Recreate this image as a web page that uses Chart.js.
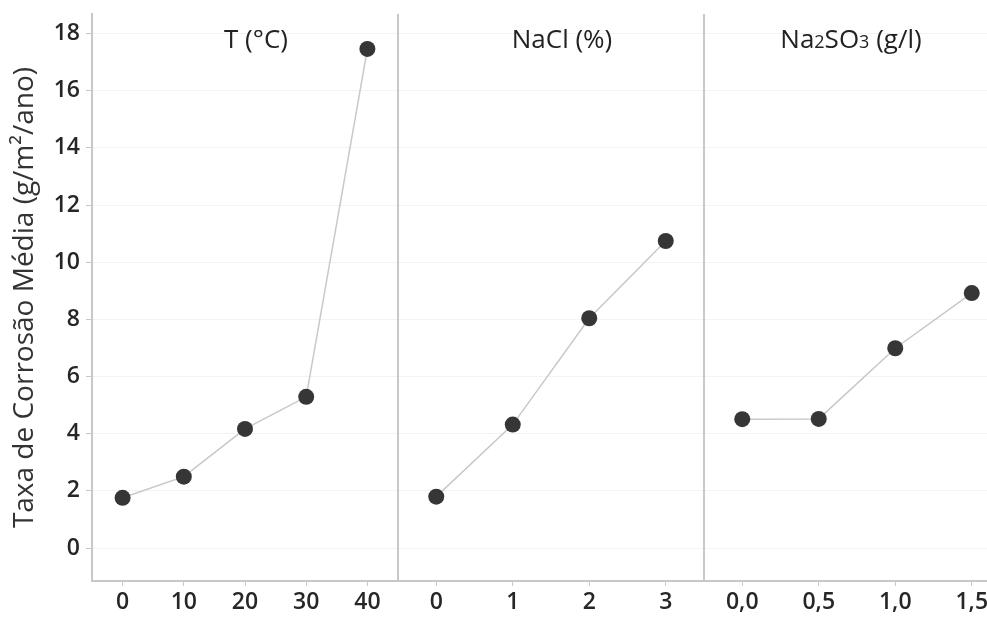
<!DOCTYPE html>
<html>
<head>
<meta charset="utf-8">
<script src="https://cdn.jsdelivr.net/npm/chart.js@4/dist/chart.umd.min.js"></script>
<style>
  html, body { margin: 0; padding: 0; background: #fff; }
  #wrap { width: 987px; height: 617px; overflow: hidden; position: relative; }
  #efeitos { position: absolute; left: 0; top: 0; }
</style>
</head>
<body>
<div id="wrap">
  <canvas id="efeitos" width="1010" height="617" aria-label="gráfico de efeitos principais" role="img"></canvas>
</div>
<script>
// fatores e níveis
var panelTitles = ["T (°C)", "NaCl (%)", "Na₂SO₃ (g/l)"];

var tempLevels = [0, 10, 20, 30, 40];
var tempLabels = ["0", "10", "20", "30", "40"];
var tempMeans = [1.76, 2.50, 4.17, 5.29, 17.46];

var naclLevels = [0, 1, 2, 3];
var naclLabels = ["0", "1", "2", "3"];
var naclMeans = [1.80, 4.32, 8.04, 10.74];

var sulfLevels = [0, 0.5, 1.0, 1.5];
var sulfLabels = ["0,0", "0,5", "1,0", "1,5"];
var sulfMeans = [4.51, 4.52, 6.99, 8.92];

var yTicks = [0, 2, 4, 6, 8, 10, 12, 14, 16, 18];

var axisGrey = "#c8c8c8";
var textColor = "#262626";
var fontFamily = "'Open Sans', 'Noto Sans', sans-serif";
var titleShift = [11, 11, -6];
var subDigits = "₀₁₂₃₄₅₆₇₈₉";

function toPoints(xs, ys) {
  var pts = [];
  for (var i = 0; i < xs.length; i++) {
    pts.push({ x: xs[i], y: ys[i] });
  }
  return pts;
}

function serie(xs, ys, axisId) {
  return {
    data: toPoints(xs, ys),
    xAxisID: axisId,
    yAxisID: "y",
    borderColor: "#c8c8c8",
    borderWidth: 1.5,
    pointRadius: 8,
    pointBorderWidth: 0,
    pointBackgroundColor: "#363636",
    tension: 0,
  };
}

// each factor gets half a step of room on both sides
function panelAxis(levels, labels) {
  var step = levels[1] - levels[0];
  return {
    type: "linear",
    position: "bottom",
    stack: "fatores",
    stackWeight: 1,
    min: levels[0] - step / 2,
    max: levels[levels.length - 1] + step / 2,
    afterBuildTicks: function (scale) {
      scale.ticks = levels.map(function (v) { return { value: v }; });
    },
    afterFit: function (scale) {
      scale.height = 36;
      scale.paddingLeft = 0;
      scale.paddingRight = 0;
    },
    border: { color: axisGrey, width: 2 },
    grid: { drawOnChartArea: false, tickLength: 5, tickColor: axisGrey, tickWidth: 1 },
    ticks: {
      color: textColor,
      padding: 3,
      maxRotation: 0,
      font: { family: fontFamily, size: 23, weight: "600" },
      callback: function (value, index) { return labels[index]; },
    },
  };
}

// text with small baseline digits for the chemical formula
function drawFormula(ctx, text, cx, y, size) {
  var parts = [];
  for (var i = 0; i < text.length; i++) {
    var k = subDigits.indexOf(text[i]);
    if (k >= 0) parts.push({ t: String(k), s: Math.round(size * 0.68) });
    else parts.push({ t: text[i], s: size });
  }
  var total = 0;
  parts.forEach(function (p) {
    ctx.font = p.s + "px " + fontFamily;
    p.w = ctx.measureText(p.t).width;
    total += p.w;
  });
  var x = cx - total / 2;
  ctx.textAlign = "left";
  ctx.textBaseline = "alphabetic";
  parts.forEach(function (p) {
    ctx.font = p.s + "px " + fontFamily;
    ctx.fillText(p.t, x, y);
    x += p.w;
  });
}

// separators between the panels and the factor names on top
var panelDecor = {
  id: "panelDecor",
  beforeDatasetsDraw: function (chart) {
    var ctx = chart.ctx;
    var area = chart.chartArea;
    ctx.save();
    ctx.strokeStyle = axisGrey;
    ctx.lineWidth = 2;
    ["xN", "xS"].forEach(function (id) {
      var x = chart.scales[id].left;
      ctx.beginPath();
      ctx.moveTo(x, area.top);
      ctx.lineTo(x, area.bottom);
      ctx.stroke();
    });
    ctx.restore();
  },
  afterDraw: function (chart) {
    var ctx = chart.ctx;
    var area = chart.chartArea;
    ctx.save();
    ctx.fillStyle = "#222222";
    ["xT", "xN", "xS"].forEach(function (id, i) {
      var s = chart.scales[id];
      drawFormula(ctx, panelTitles[i], (s.left + s.right) / 2 + titleShift[i], area.top + 34, 26);
    });
    ctx.restore();
  },
};

var chart = document.getElementById("efeitos").getContext("2d");
var myChart = new Chart(chart, {
  type: "line",
  data: {
    datasets: [
      serie(tempLevels, tempMeans, "xT"),
      serie(naclLevels, naclMeans, "xN"),
      serie(sulfLevels, sulfMeans, "xS"),
    ],
  },
  options: {
    responsive: false,
    animation: false,
    layout: { autoPadding: false, padding: { top: 14, left: 0, right: 0, bottom: 0 } },
    plugins: {
      legend: { display: false },
      tooltip: { enabled: false },
    },
    scales: {
      xT: panelAxis(tempLevels, tempLabels),
      xN: panelAxis(naclLevels, naclLabels),
      xS: panelAxis(sulfLevels, sulfLabels),
      y: {
        type: "linear",
        position: "left",
        min: -1.15,
        max: 18.68,
        afterBuildTicks: function (scale) {
          scale.ticks = yTicks.map(function (v) { return { value: v }; });
        },
        afterFit: function (scale) {
          scale.width = 92;
          scale.paddingTop = 0;
          scale.paddingBottom = 0;
        },
        border: { color: axisGrey, width: 2 },
        grid: { color: "#f3f3f3", lineWidth: 1, tickLength: 6, tickColor: axisGrey },
        ticks: {
          color: textColor,
          padding: 6,
          font: { family: fontFamily, size: 23, weight: "600" },
        },
        title: {
          display: true,
          text: "Taxa de Corrosão Média (g/m²/ano)",
          color: "#333333",
          padding: { top: 8, bottom: 0 },
          font: { family: fontFamily, size: 28, weight: "normal" },
        },
      },
    },
  },
  plugins: [panelDecor],
});
</script>
</body>
</html>
